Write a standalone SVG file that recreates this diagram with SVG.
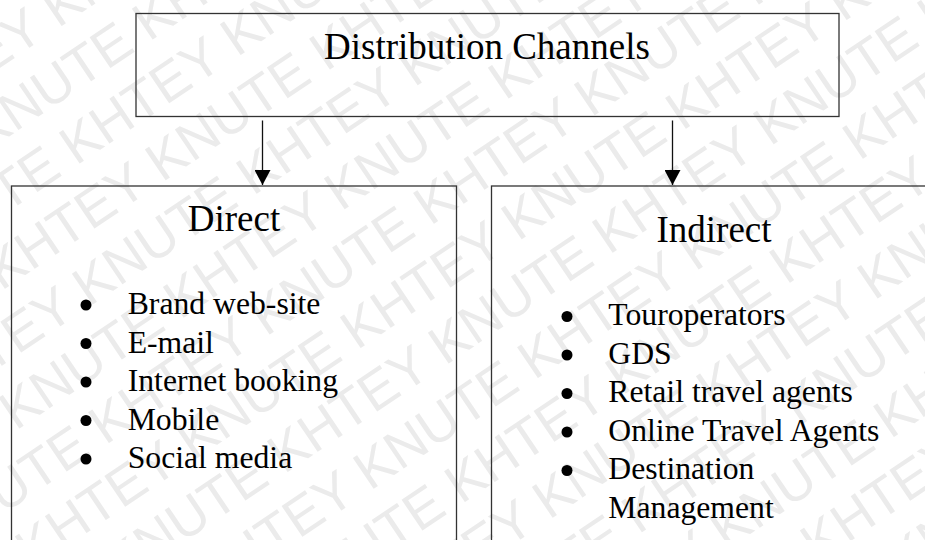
<svg xmlns="http://www.w3.org/2000/svg" width="925" height="540" viewBox="0 0 925 540">
  <style>
    .wm { font-family: "Liberation Sans", Arial, sans-serif; font-size: 54px; fill: #ebebeb; }
    .box { fill: none; stroke: #333; stroke-width: 1.3; }
    .title { font-family: "Liberation Serif", "Times New Roman", serif; font-size: 37px; fill: #000; text-anchor: middle; }
    .item { font-family: "Liberation Serif", "Times New Roman", serif; font-size: 31.7px; fill: #000; }
    .dot { fill: #000; }
    .link { stroke: #111; stroke-width: 1.3; fill: none; marker-end: url(#head); }
  </style>
  <defs>
    <marker id="head" viewBox="0 0 15 16" refX="15" refY="8" markerWidth="15" markerHeight="16" markerUnits="userSpaceOnUse" orient="auto">
      <path d="M0,0 L15,8 L0,16 z" fill="#000"/>
    </marker>
  </defs>

  <rect width="925" height="540" fill="#fff"/>

  <!-- diagonal background watermark -->
  <g id="watermark" transform="rotate(-34 462 270)">
    <text class="wm" x="-260" y="-280">KNUTE KHTEY KNUTE KHTEY KNUTE KHTEY KNUTE KHTEY</text>
    <text class="wm" x="-390" y="-218">KNUTE KHTEY KNUTE KHTEY KNUTE KHTEY KNUTE KHTEY</text>
    <text class="wm" x="-130" y="-156">KNUTE KHTEY KNUTE KHTEY KNUTE KHTEY KNUTE KHTEY</text>
    <text class="wm" x="-260" y="-94">KNUTE KHTEY KNUTE KHTEY KNUTE KHTEY KNUTE KHTEY</text>
    <text class="wm" x="-390" y="-32">KNUTE KHTEY KNUTE KHTEY KNUTE KHTEY KNUTE KHTEY</text>
    <text class="wm" x="-130" y="30">KNUTE KHTEY KNUTE KHTEY KNUTE KHTEY KNUTE KHTEY</text>
    <text class="wm" x="-260" y="92">KNUTE KHTEY KNUTE KHTEY KNUTE KHTEY KNUTE KHTEY</text>
    <text class="wm" x="-390" y="154">KNUTE KHTEY KNUTE KHTEY KNUTE KHTEY KNUTE KHTEY</text>
    <text class="wm" x="-130" y="216">KNUTE KHTEY KNUTE KHTEY KNUTE KHTEY KNUTE KHTEY</text>
    <text class="wm" x="-260" y="278">KNUTE KHTEY KNUTE KHTEY KNUTE KHTEY KNUTE KHTEY</text>
    <text class="wm" x="-390" y="340">KNUTE KHTEY KNUTE KHTEY KNUTE KHTEY KNUTE KHTEY</text>
    <text class="wm" x="-130" y="402">KNUTE KHTEY KNUTE KHTEY KNUTE KHTEY KNUTE KHTEY</text>
    <text class="wm" x="-260" y="464">KNUTE KHTEY KNUTE KHTEY KNUTE KHTEY KNUTE KHTEY</text>
    <text class="wm" x="-390" y="526">KNUTE KHTEY KNUTE KHTEY KNUTE KHTEY KNUTE KHTEY</text>
    <text class="wm" x="-130" y="588">KNUTE KHTEY KNUTE KHTEY KNUTE KHTEY KNUTE KHTEY</text>
    <text class="wm" x="-260" y="650">KNUTE KHTEY KNUTE KHTEY KNUTE KHTEY KNUTE KHTEY</text>
    <text class="wm" x="-390" y="712">KNUTE KHTEY KNUTE KHTEY KNUTE KHTEY KNUTE KHTEY</text>
    <text class="wm" x="-130" y="774">KNUTE KHTEY KNUTE KHTEY KNUTE KHTEY KNUTE KHTEY</text>
    <text class="wm" x="-260" y="836">KNUTE KHTEY KNUTE KHTEY KNUTE KHTEY KNUTE KHTEY</text>
  </g>

  <!-- connectors -->
  <g id="connectors">
    <line class="link" x1="262.5" y1="120.5" x2="262.5" y2="185"/>
    <line class="link" x1="672.5" y1="120.5" x2="672.5" y2="185"/>
  </g>

  <!-- root node -->
  <g id="distribution-channels">
    <rect class="box" x="136" y="13.5" width="703" height="103"/>
    <text class="title" x="487" y="59">Distribution Channels</text>
  </g>

  <!-- direct channels -->
  <g id="direct">
    <rect class="box" x="11.5" y="186" width="445" height="400"/>
    <text class="title" x="234" y="231">Direct</text>
    <circle class="dot" cx="86" cy="305" r="5.5"/>
    <text class="item" x="127.7" y="314">Brand web-site</text>
    <circle class="dot" cx="86" cy="343.5" r="5.5"/>
    <text class="item" x="127.7" y="352.5">E-mail</text>
    <circle class="dot" cx="86" cy="382" r="5.5"/>
    <text class="item" x="127.7" y="391">Internet booking</text>
    <circle class="dot" cx="86" cy="420.5" r="5.5"/>
    <text class="item" x="127.7" y="429.5">Mobile</text>
    <circle class="dot" cx="86" cy="459" r="5.5"/>
    <text class="item" x="127.7" y="468">Social media</text>
  </g>

  <!-- indirect channels -->
  <g id="indirect">
    <rect class="box" x="491.5" y="186" width="450" height="400"/>
    <text class="title" x="714" y="242">Indirect</text>
    <circle class="dot" cx="567" cy="316.5" r="5.5"/>
    <text class="item" x="608.3" y="325">Touroperators</text>
    <circle class="dot" cx="567" cy="355" r="5.5"/>
    <text class="item" x="608.3" y="363.5">GDS</text>
    <circle class="dot" cx="567" cy="393.5" r="5.5"/>
    <text class="item" x="608.3" y="402">Retail travel agents</text>
    <circle class="dot" cx="567" cy="432" r="5.5"/>
    <text class="item" x="608.3" y="440.5">Online Travel Agents</text>
    <circle class="dot" cx="567" cy="470.5" r="5.5"/>
    <text class="item" x="608.3" y="479">Destination</text>
    <text class="item" x="608.3" y="517.5">Management</text>
  </g>
</svg>
